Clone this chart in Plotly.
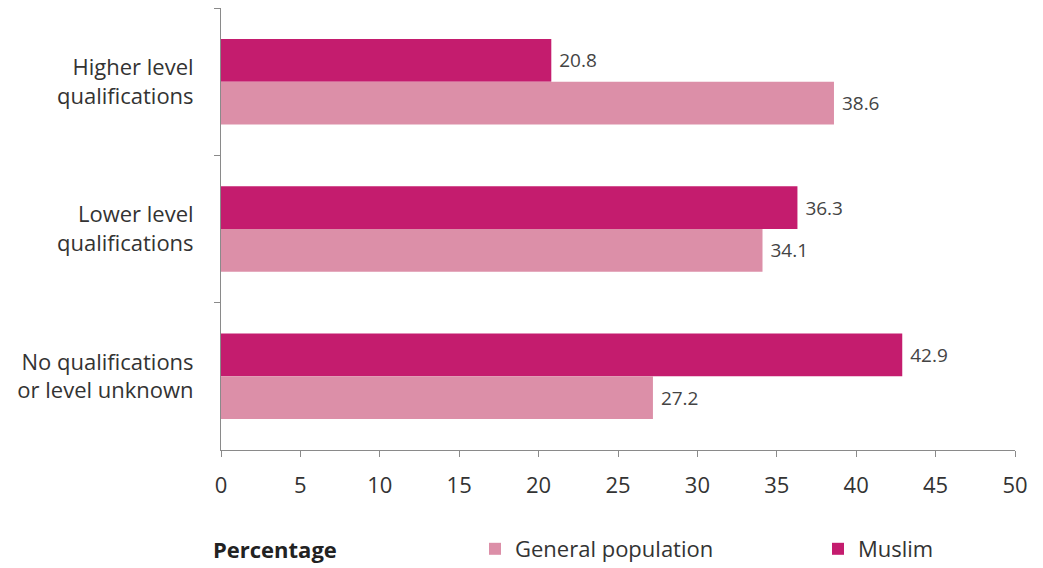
import plotly.graph_objects as go

categories = ["Higher level<br>qualifications", "Lower level<br>qualifications", "No qualifications<br>or level unknown"]
muslim = [20.8, 36.3, 42.9]
general = [38.6, 34.1, 27.2]
x_ticks = [0, 5, 10, 15, 20, 25, 30, 35, 40, 45, 50]

FONT = "Open Sans"
L, R, T, B = 221, 28, 8, 118
W, H = 1043, 568
pw, ph = W - L - R, H - T - B

def px_x(x):
    return (x - L) / pw

def px_y(y):
    return (H - B - y) / ph

fig = go.Figure()
fig.add_trace(go.Bar(
    y=categories, x=muslim, orientation="h", name="Muslim",
    marker=dict(color="#C41C6E", line=dict(width=0)),
    text=[f" {v:.1f}" for v in muslim], textposition="outside",
    textfont=dict(size=19, color="#444444", family=FONT), cliponaxis=False,
    legend="legend2",
))
fig.add_trace(go.Bar(
    y=categories, x=general, orientation="h", name="General population",
    marker=dict(color="#DC8FA8", line=dict(width=0)),
    text=[f" {v:.1f}" for v in general], textposition="outside",
    textfont=dict(size=19, color="#444444", family=FONT), cliponaxis=False,
    legend="legend",
))
legend_common = dict(orientation="h", xanchor="left", yanchor="middle",
                     font=dict(size=22, color="#333333", family=FONT),
                     itemwidth=30, bgcolor="rgba(0,0,0,0)")
fig.update_layout(
    width=W, height=H,
    margin=dict(l=L, r=R, t=T, b=B, autoexpand=False),
    paper_bgcolor="white", plot_bgcolor="white",
    barmode="group", bargap=0.42, bargroupgap=0,
    font=dict(family=FONT, color="#333333", size=18),
    showlegend=True,
    legend=dict(x=px_x(475), y=px_y(549), **legend_common),
    legend2=dict(x=px_x(818), y=px_y(549), **legend_common),
    xaxis=dict(range=[0, 50], tickvals=x_ticks, showgrid=False, zeroline=False,
               showline=True, linecolor="#8a8a8a", linewidth=1,
               ticks="outside", ticklen=6, tickcolor="#8a8a8a",
               ticklabelstandoff=10, tickfont=dict(size=22, color="#333333")),
    yaxis=dict(autorange="reversed", showgrid=False, zeroline=False,
               showline=True, linecolor="#8a8a8a", linewidth=1,
               ticks="outside", ticklen=6, tickcolor="#8a8a8a", tickson="boundaries",
               ticklabelstandoff=22, tickfont=dict(size=22, color="#333333")),
    annotations=[dict(text="<b>Percentage</b>", x=px_x(211), y=px_y(549),
                      xref="paper", yref="paper", xanchor="left", yanchor="middle",
                      showarrow=False, font=dict(size=22, color="#222222", family=FONT))],
)
fig.write_html("out.html")
